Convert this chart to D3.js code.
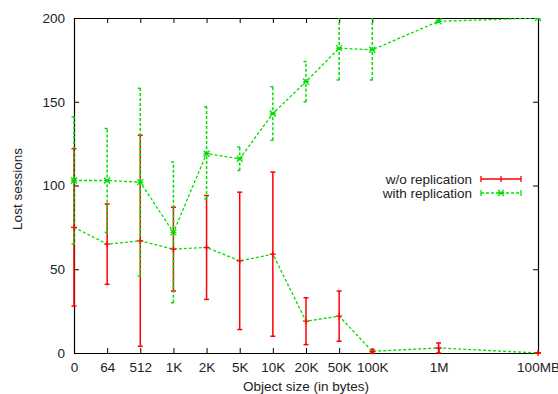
<!DOCTYPE html>
<html>
<head>
<meta charset="utf-8">
<script src="https://cdn.jsdelivr.net/npm/d3@7"></script>
<style>
  body { margin: 0; background: #fff; }
  text { font-family: "Liberation Sans", Arial, sans-serif; font-size: 13.5px; fill: #222; }
</style>
</head>
<body>
<div id="vis"></div>
<script>
//Declare constants for frame
const FRAME_WIDTH = 558;
const FRAME_HEIGHT = 394;
const MARGINS = {left: 74, right: 20, top: 18, bottom: 41};
const VIS_WIDTH = FRAME_WIDTH - MARGINS.left - MARGINS.right;
const VIS_HEIGHT = FRAME_HEIGHT - MARGINS.top - MARGINS.bottom;

// data
const sizes = ["0", "64", "512", "1K", "2K", "5K", "10K", "20K", "50K", "100K", "1M", "100MB"];
const sizePos = [0, 1, 2, 3, 4, 5, 6, 7, 8, 9, 11, 14];

const noRepMean = [75, 65, 67, 62, 63, 55, 59, 19, 22, 1, 3, 0];
const noRepLow  = [28, 41, 4, 37, 32, 14, 10, 5, 7, 0, 0, 0];
const noRepHigh = [122, 89, 130, 87, 94, 96, 108, 33, 37, 2, 6, 0];

const repMean = [103, 103, 102, 72, 119, 116, 143, 162, 182, 181, 198, 200];
const repLow  = [65, 72, 46, 30, 92, 109, 127, 150, 163, 163, 198, 200];
const repHigh = [141, 134, 158, 114, 147, 123, 159, 174, 210, 210, 198, 200];

const yTicks = [0, 50, 100, 150, 200];

const RED = "#ff0000";
const GREEN = "#00e000";

const FRAME = d3.select("#vis")
  .append("svg")
    .attr("width", FRAME_WIDTH)
    .attr("height", FRAME_HEIGHT);

const X_SCALE = d3.scaleLinear().domain([0, 14]).range([0, VIS_WIDTH]);
const Y_SCALE = d3.scaleLinear().domain([0, 200]).range([VIS_HEIGHT, 0]);

const G = FRAME.append("g")
  .attr("transform", "translate(" + MARGINS.left + "," + MARGINS.top + ")");

G.append("defs").append("clipPath").attr("id", "clip")
  .append("rect").attr("x", -4).attr("y", 0).attr("width", VIS_WIDTH + 8).attr("height", VIS_HEIGHT + 4);

// axes (gnuplot style: inward ticks, mirrored)
G.append("g")
  .attr("transform", "translate(0," + VIS_HEIGHT + ")")
  .call(d3.axisBottom(X_SCALE).tickValues(sizePos).tickFormat((d, i) => sizes[i]).tickSizeInner(-5).tickSizeOuter(0).tickPadding(9));
G.append("g")
  .call(d3.axisTop(X_SCALE).tickValues(sizePos).tickFormat("").tickSizeInner(-5).tickSizeOuter(0));
G.append("g")
  .call(d3.axisLeft(Y_SCALE).tickValues(yTicks).tickSizeInner(-5).tickSizeOuter(0).tickPadding(9));
G.append("g")
  .attr("transform", "translate(" + VIS_WIDTH + ",0)")
  .call(d3.axisRight(Y_SCALE).tickValues(yTicks).tickFormat("").tickSizeInner(-5).tickSizeOuter(0));

G.selectAll(".domain").attr("stroke", "#000").attr("stroke-width", 1.2);
G.selectAll(".tick line").attr("stroke", "#000");
G.selectAll(".tick text").attr("font-size", 13.5).attr("fill", "#222");

const PLOT = G.append("g").attr("clip-path", "url(#clip)");

const line = d3.line()
  .x((d) => X_SCALE(d.x))
  .y((d) => Y_SCALE(d.y));

function drawSeries(mean, low, high, color, dashed) {
  const pts = mean.map((m, i) => ({x: sizePos[i], y: m, lo: low[i], hi: high[i]}));
  // error bars
  const bars = PLOT.append("g")
    .attr("stroke", color)
    .attr("stroke-width", 1.5)
    .attr("stroke-dasharray", dashed ? "3,2" : null);
  bars.selectAll("line.v").data(pts).enter().append("line")
    .attr("x1", (d) => X_SCALE(d.x)).attr("x2", (d) => X_SCALE(d.x))
    .attr("y1", (d) => Y_SCALE(d.lo)).attr("y2", (d) => Y_SCALE(d.hi));
  ["lo", "hi"].forEach((k) => {
    bars.selectAll("line.c" + k).data(pts).enter().append("line")
      .attr("stroke-dasharray", null)
      .attr("x1", (d) => X_SCALE(d.x) - 2.5).attr("x2", (d) => X_SCALE(d.x) + 2.5)
      .attr("y1", (d) => Y_SCALE(d[k])).attr("y2", (d) => Y_SCALE(d[k]));
  });
  return pts;
}

const ptsA = drawSeries(noRepMean, noRepLow, noRepHigh, RED, false);
const ptsB = drawSeries(repMean, repLow, repHigh, GREEN, true);

// connecting lines (both green dashed)
[ptsA, ptsB].forEach((pts) => {
  PLOT.append("path")
    .datum(pts)
    .attr("d", line)
    .attr("fill", "none")
    .attr("stroke", GREEN)
    .attr("stroke-width", 1.3)
    .attr("stroke-dasharray", "3,2");
});

// markers
PLOT.selectAll("path.plus").data(ptsA).enter().append("path")
  .attr("d", (d) => {
    const x = X_SCALE(d.x), y = Y_SCALE(d.y);
    return "M" + (x - 3) + "," + y + "H" + (x + 3) + "M" + x + "," + (y - 3) + "V" + (y + 3);
  })
  .attr("stroke", RED).attr("stroke-width", 1.3);

function star(x, y) {
  return "M" + (x - 3) + "," + (y - 3) + "L" + (x + 3) + "," + (y + 3) +
         "M" + (x - 3) + "," + (y + 3) + "L" + (x + 3) + "," + (y - 3) +
         "M" + (x - 3) + "," + y + "H" + (x + 3);
}
PLOT.selectAll("path.star").data(ptsB).enter().append("path")
  .attr("d", (d) => star(X_SCALE(d.x), Y_SCALE(d.y)))
  .attr("stroke", GREEN).attr("stroke-width", 1.3);

// legend
const LEG = FRAME.append("g");
const legendRows = [
  {label: "w/o replication", color: RED, dash: null, y: 179},
  {label: "with replication", color: GREEN, dash: "3,2", y: 193}
];
legendRows.forEach((r) => {
  LEG.append("text").attr("x", 472).attr("y", r.y + 5).attr("text-anchor", "end").text(r.label);
  LEG.append("line").attr("x1", 481).attr("x2", 521).attr("y1", r.y).attr("y2", r.y)
    .attr("stroke", r.color).attr("stroke-width", 1.3).attr("stroke-dasharray", r.dash);
  [481, 521].forEach((x) => {
    LEG.append("line").attr("x1", x).attr("x2", x).attr("y1", r.y - 3).attr("y2", r.y + 3)
      .attr("stroke", r.color).attr("stroke-width", 1.3);
  });
});
LEG.append("path").attr("d", "M501,176V182").attr("stroke", RED).attr("stroke-width", 1.3);
LEG.append("path").attr("d", star(501, 193)).attr("stroke", GREEN).attr("stroke-width", 1.3);

// axis titles
FRAME.append("text")
  .attr("x", MARGINS.left + VIS_WIDTH / 2)
  .attr("y", 391)
  .attr("text-anchor", "middle")
  .text("Object size (in bytes)");
FRAME.append("text")
  .attr("transform", "translate(22,189) rotate(-90)")
  .attr("text-anchor", "middle")
  .text("Lost sessions");
</script>
</body>
</html>
